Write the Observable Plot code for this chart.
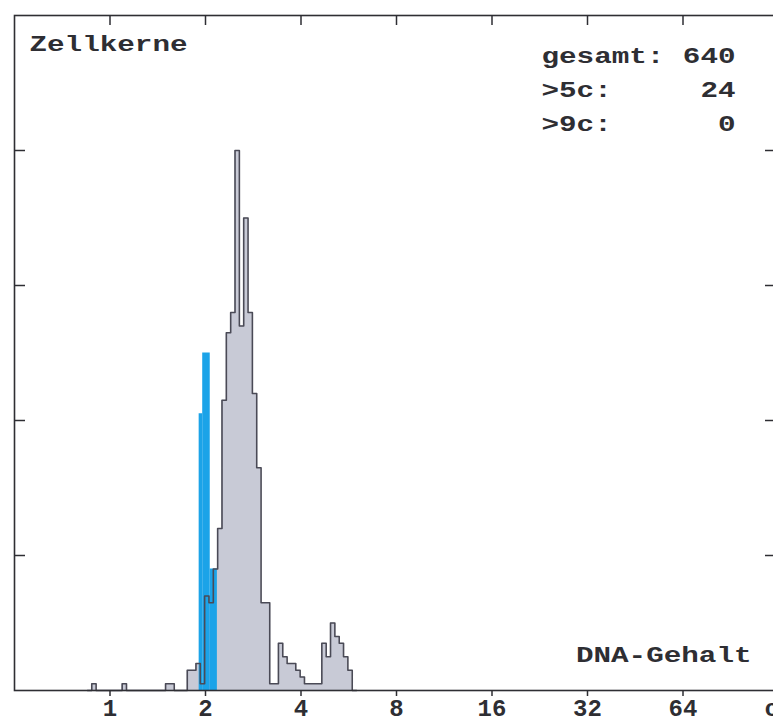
<!DOCTYPE html>
<html>
<head>
<meta charset="utf-8">
<script src="https://cdn.jsdelivr.net/npm/d3@7"></script>
<script src="https://cdn.jsdelivr.net/npm/@observablehq/plot@0.6"></script>
<style>
  body { margin: 0; background: #fff; }
  #chart svg { display: block; }
</style>
</head>
<body>
<div id="chart"></div>
<script>
// ---- Data ----
// Gray histogram of nuclei: log2 bins, 22 bins per octave
const binsPerOctave = 22;
const binOffset = 0.8;       // bin edge offset (in bins)
const firstBin = -6;         // index of first bin
const counts = [0,1, 0,0,0,0,0,0, 1, 0,0,0,0,0,0,0,0,0, 1,1, 0,0,0,
  3,3,4,1,14,13,18,24,43,53,56,80,54,70,56,44,33,13,13,1,1,7,5,4,4,3,2,1,1,1,1,7,5,10,8,7,5,3,0];

// Blue reference (2c standard) bars, DNA content in c
const refLo = [1.91, 1.96, 2.07];
const refHi = [1.96, 2.07, 2.18];
const refCounts = [41, 50, 18];

const xTicks = [1, 2, 4, 8, 16, 32, 64];
const yTicks = [20, 40, 60, 80];
const xUnit = "c";
const title = "Zellkerne";
const statLabels = ["gesamt:", ">5c:", ">9c:"];
const statValues = [640, 24, 0];
const xLabel = "DNA-Gehalt";

// ---- Build tables ----
const histData = counts.map((c, i) => ({x: 2 ** ((firstBin + i + binOffset) / binsPerOctave), count: c}));
histData.push({x: 2 ** ((firstBin + counts.length + binOffset) / binsPerOctave), count: 0});
const refData = refLo.map((lo, i) => ({lo, hi: refHi[i], count: refCounts[i]}));

const font = "'Liberation Mono', 'Courier New', monospace";
const ink = "#2e2e33";

// layout
const W = 773, H = 723, mL = 14, mR = -5, mT = 15, mB = 33;
const frameW = W - mL - mR, frameH = H - mT - mB;

const statMarks = [];
statLabels.forEach((t, i) => {
  statMarks.push(Plot.text([t], {frameAnchor: "top-left", dx: 527, dy: 40 + 34.3 * i, textAnchor: "start", lineAnchor: "middle", fontSize: 22, fontWeight: "bold", fill: ink}));
  statMarks.push(Plot.text([String(statValues[i])], {frameAnchor: "top-left", dx: 721, dy: 40 + 34.3 * i, textAnchor: "end", lineAnchor: "middle", fontSize: 22, fontWeight: "bold", fill: ink}));
});

const plot = Plot.plot({
  width: W,
  height: H,
  marginLeft: mL,
  marginRight: mR,
  marginTop: mT,
  marginBottom: mB,
  x: {type: "log", base: 2, domain: [0.5, 128], label: null},
  y: {domain: [0, 100], label: null, axis: null},
  style: {fontFamily: font, background: "#fff", color: ink},
  marks: [
    Plot.areaY(histData, {x: "x", y: "count", curve: "step-after", fill: "#c8cad6"}),
    Plot.rect(refData, {x1: "lo", x2: "hi", y1: 0, y2: "count", fill: "#1ba3e8"}),
    Plot.lineY(histData, {x: "x", y: "count", curve: "step-after", stroke: "#4a4a56", strokeWidth: 1.6}),
    Plot.frame({stroke: ink, strokeWidth: 1.6}),
    Plot.axisX({anchor: "bottom", ticks: xTicks, tickSize: 6, tickPadding: 2, tickFormat: d => String(d), fontSize: 24, fontWeight: "bold", strokeWidth: 1.5, label: null}),
    // inward ticks: top, left, right
    Plot.ruleX(xTicks, {x: d => d, insetBottom: frameH - 10, stroke: ink, strokeWidth: 1.5}),
    Plot.ruleY(yTicks, {y: d => d, insetRight: frameW - 11, stroke: ink, strokeWidth: 1.5}),
    Plot.ruleY(yTicks, {y: d => d, insetLeft: frameW - 13, stroke: ink, strokeWidth: 1.5}),
    Plot.text([xUnit], {frameAnchor: "bottom-right", dx: -14, dy: 8, textAnchor: "start", lineAnchor: "top", fontSize: 24, fontWeight: "bold", fill: ink}),
    Plot.text([title], {frameAnchor: "top-left", dx: 15, dy: 28.5, textAnchor: "start", lineAnchor: "middle", fontSize: 22, fontWeight: "bold", fill: ink}),
    Plot.text([xLabel], {frameAnchor: "bottom-right", dx: -27, dy: -36, textAnchor: "end", lineAnchor: "middle", fontSize: 22, fontWeight: "bold", fill: ink}),
    ...statMarks
  ]
});

document.getElementById("chart").append(plot);

// Typewriter-like wide lettering for the annotation texts
const wide = new Set([title, xLabel, ...statLabels, ...statValues.map(String)]);
plot.querySelectorAll("text").forEach(t => {
  if (t.querySelector("tspan")) return;
  if (!wide.has(t.textContent)) return;
  const len = t.getComputedTextLength();
  t.setAttribute("textLength", (len * 1.33).toFixed(1));
  t.setAttribute("lengthAdjust", "spacingAndGlyphs");
});
</script>
</body>
</html>
